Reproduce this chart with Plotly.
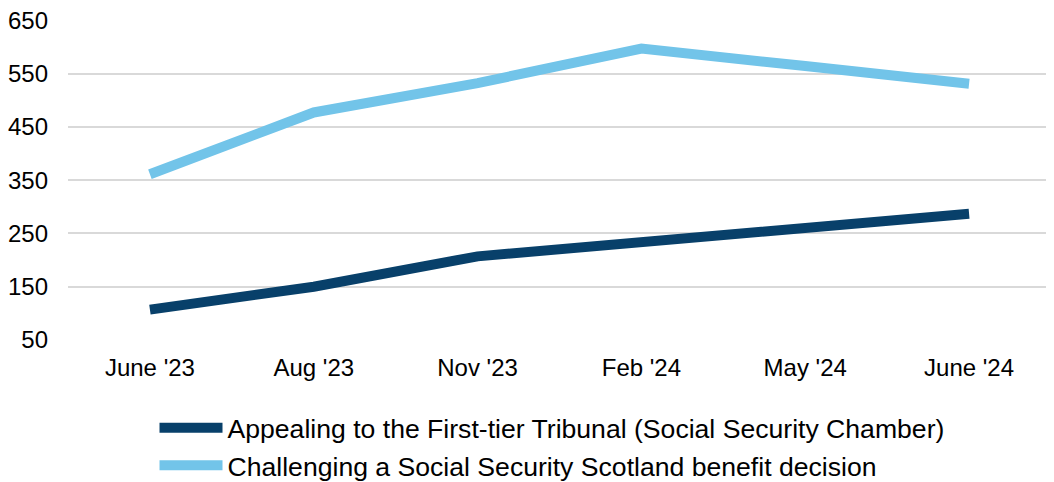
import plotly.graph_objects as go

categories = ["June '23", "Aug '23", "Nov '23", "Feb '24", "May '24", "June '24"]
tribunal = [107, 150, 207, 233, 259, 287]
challenging = [361, 477, 532, 597, 564, 531]
series_names = [
    "Appealing to the First-tier Tribunal (Social Security Chamber)",
    "Challenging a Social Security Scotland benefit decision",
]
y_ticks = [50, 150, 250, 350, 450, 550, 650]

fig = go.Figure()
fig.add_trace(go.Scatter(x=categories, y=tribunal, mode="lines", name=series_names[0],
                         line=dict(color="#08406A", width=10)))
fig.add_trace(go.Scatter(x=categories, y=challenging, mode="lines", name=series_names[1],
                         line=dict(color="#72C4E9", width=10)))

fig.update_layout(
    width=1054, height=482,
    margin=dict(l=60, r=11, t=12, b=150, autoexpand=False),
    paper_bgcolor="white", plot_bgcolor="white",
    font=dict(family="Liberation Sans, Arial, sans-serif", size=24, color="#000000"),
    showlegend=True,
    legend=dict(x=0.088, y=-0.2, xanchor="left", yanchor="top", orientation="v",
                font=dict(size=26.6), itemwidth=63, tracegroupgap=0, bgcolor="rgba(0,0,0,0)"),
    xaxis=dict(type="category", range=[-0.5, 5.5], showgrid=False, showline=False,
               zeroline=False, ticks="", ticklabelstandoff=11),
    yaxis=dict(range=[50, 650.5], tickvals=y_ticks, showgrid=True, gridcolor="#D9D9D9",
               gridwidth=1.5, zeroline=False, showline=False, ticks="", ticklabelstandoff=19,
               ticklabeloverflow="allow"),
)

fig.write_html("out.html")
